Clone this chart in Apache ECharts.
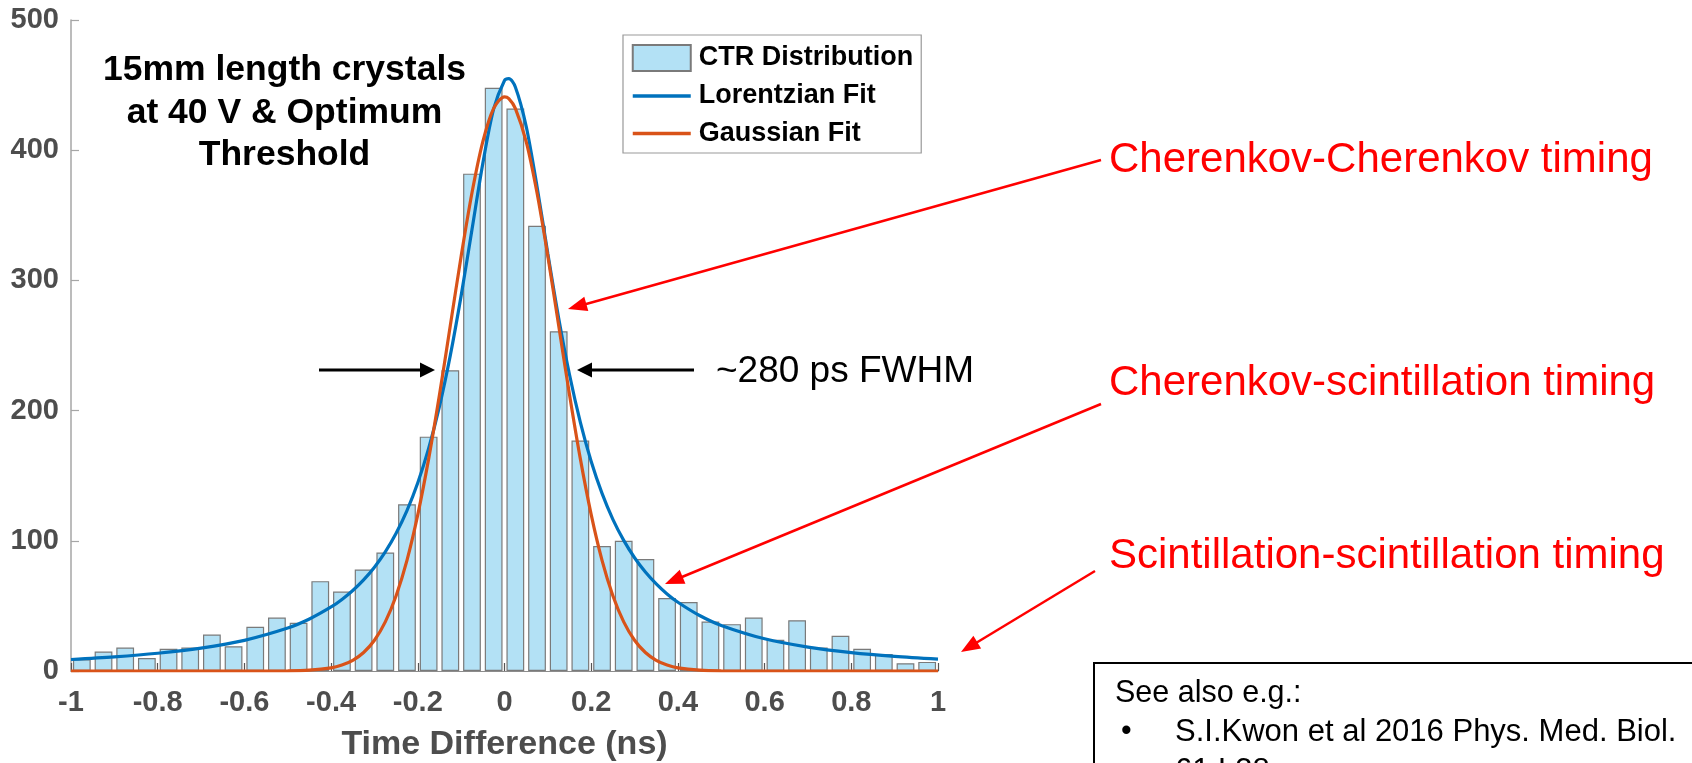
<!DOCTYPE html>
<html>
<head>
<meta charset="utf-8">
<script src="https://cdn.jsdelivr.net/npm/echarts@6/dist/echarts.min.js"></script>
<style>
  html, body { margin: 0; padding: 0; background: #ffffff; }
  #chart { width: 1692px; height: 763px; }
</style>
</head>
<body>
<div id="chart"></div>
<script>
// Histogram bins (ns, bin centres, 0.05 ns wide) and counts per bin
const binCenters = [
  -0.975, -0.925, -0.875, -0.825, -0.775, -0.725, -0.675, -0.625, -0.575, -0.525,
  -0.475, -0.425, -0.375, -0.325, -0.275, -0.225, -0.175, -0.125, -0.075, -0.025,
   0.025,  0.075,  0.125,  0.175,  0.225,  0.275,  0.325,  0.375,  0.425,  0.475,
   0.525,  0.575,  0.625,  0.675,  0.725,  0.775,  0.825,  0.875,  0.925,  0.975
];
const counts = [
   9, 15, 18, 10, 17, 18, 28, 19, 34, 41,
  37, 69, 61, 78, 91, 128, 180, 231, 382, 448,
  432, 342, 261, 177, 96, 100, 86, 56, 53, 38,
  36, 41, 24, 39, 18, 27, 17, 13, 6, 7
];

// Sample positions (ns) of the fitted curves
const fitX = [
  -1, -0.9, -0.8, -0.7, -0.6, -0.5, -0.45, -0.4, -0.375, -0.35, -0.325, -0.3,
  -0.275, -0.25, -0.225, -0.2, -0.175, -0.15, -0.125, -0.1, -0.075, -0.05, -0.025,
  0, 0.01,
  0.025, 0.05, 0.075, 0.1, 0.125, 0.15, 0.175, 0.2, 0.225, 0.25, 0.275, 0.3,
  0.325, 0.35, 0.375, 0.4, 0.45, 0.5, 0.6, 0.7, 0.8, 0.9, 1
];
const lorentzFit = [
  8.85, 10.86, 13.63, 17.59, 23.54, 32.97, 39.91, 49.16, 54.98, 61.85, 70.01, 79.76,
  91.51, 105.8, 123.2, 144.6, 171.0, 203.3, 242.4, 288.3, 339.1, 389.9, 431.7,
  453.6, 455,
  448.6, 418.4, 372.2, 320.5, 271.0, 227.5, 190.9, 160.9, 136.4, 116.5, 100.3, 87.0,
  76.0, 66.9, 59.2, 52.8, 42.6, 35.0, 24.75, 18.38, 14.17, 11.25, 9.14
];
const gaussFit = [
  0, 0, 0, 0, 0, 0.1, 0.6, 2.4, 4.6, 8.2, 14.2, 23.6,
  37.7, 57.8, 85.0, 120.1, 162.9, 212.2, 265.3, 318.6, 367.3, 406.6, 432.1,
  441, 439.6,
  432.1, 406.6, 367.3, 318.6, 265.3, 212.2, 162.9, 120.1, 85.0, 57.8, 37.7, 23.6,
  14.2, 8.2, 4.6, 2.4, 0.6, 0.1, 0, 0, 0, 0, 0
];

const seriesNames = ['CTR Distribution', 'Lorentzian Fit', 'Gaussian Fit'];
const titleLines = ['15mm length crystals', 'at 40 V & Optimum', 'Threshold'];
const fwhmText = '~280 ps FWHM';
const timingLabels = [
  'Cherenkov-Cherenkov timing',
  'Cherenkov-scintillation timing',
  'Scintillation-scintillation timing'
];
const refLines = ['See also e.g.:', 'S.I.Kwon et al 2016 Phys. Med. Biol.', '61 L38'];

const FONT = "'Liberation Sans', Arial, Helvetica, sans-serif";

// Straight arrow: a stroked shaft plus a filled triangular head at (x2, y2)
function arrow(x1, y1, x2, y2, color, width, headLen, headW) {
  const dx = x2 - x1, dy = y2 - y1;
  const len = Math.sqrt(dx * dx + dy * dy);
  const ux = dx / len, uy = dy / len;
  const bx = x2 - ux * headLen, by = y2 - uy * headLen;
  const px = -uy * headW / 2, py = ux * headW / 2;
  return [
    {
      type: 'line', silent: true, z: 50,
      shape: { x1: x1, y1: y1, x2: bx + ux * 2, y2: by + uy * 2 },
      style: { stroke: color, lineWidth: width }
    },
    {
      type: 'polygon', silent: true, z: 50,
      shape: { points: [[x2, y2], [bx + px, by + py], [bx - px, by - py]] },
      style: { fill: color }
    }
  ];
}

function text(str, x, y, opts) {
  return {
    type: 'text', silent: true, z: 60,
    style: Object.assign({
      text: str, x: x, y: y,
      fill: '#000000',
      font: '36px ' + FONT,
      textAlign: 'left',
      textVerticalAlign: 'middle'
    }, opts || {})
  };
}

const graphics = [];
// Title block inside the plot
const titleY = [70, 113, 155];
titleLines.forEach((t, i) => {
  graphics.push(text(t, 284.5, titleY[i], { font: 'bold 35.5px ' + FONT, textAlign: 'center' }));
});
// FWHM markers
graphics.push(...arrow(319, 370, 435, 370, '#000000', 3, 15, 15));
graphics.push(...arrow(694, 370, 577, 370, '#000000', 3, 15, 15));
graphics.push(text(fwhmText, 716, 372, { font: '37px ' + FONT }));
// Timing labels with pointers
const labelY = [160, 383, 556];
timingLabels.forEach((t, i) => {
  graphics.push(text(t, 1109, labelY[i], { font: '42px ' + FONT, fill: '#ff0000' }));
});
graphics.push(...arrow(1101, 160, 568, 309, '#ff0000', 2.5, 19, 15));
graphics.push(...arrow(1101, 404, 665, 584, '#ff0000', 2.5, 19, 15));
graphics.push(...arrow(1095, 571, 961, 652, '#ff0000', 2.5, 19, 15));
// Reference box in the lower right corner
graphics.push({
  type: 'rect', silent: true, z: 40,
  shape: { x: 1094, y: 663, width: 700, height: 200 },
  style: { fill: '#ffffff', stroke: '#000000', lineWidth: 2 }
});
graphics.push(text(refLines[0], 1115, 694, { font: '30.5px ' + FONT }));
graphics.push(text('\u2022', 1121, 732, { font: '30.5px ' + FONT }));
graphics.push(text(refLines[1], 1175, 732, { font: '31px ' + FONT }));
graphics.push(text(refLines[2], 1175, 771, { font: '31px ' + FONT }));

const chart = echarts.init(document.getElementById('chart'), null, { renderer: 'canvas' });

// Line entries in the legend show only their stroke
const hiddenMarker = { color: 'rgba(0,0,0,0)', borderWidth: 0, opacity: 0 };

chart.setOption({
  animation: false,
  backgroundColor: '#ffffff',
  grid: {
    left: 71, right: 754, top: 20, bottom: 92,
    containLabel: false,
    outerBoundsMode: 'none'
  },
  legend: {
    orient: 'vertical',
    left: 623,
    top: 35,
    padding: [9, 8, 6, 8],
    itemGap: 10.5,
    itemWidth: 58,
    itemHeight: 26,
    align: 'left',
    borderColor: '#999999',
    borderWidth: 1.2,
    backgroundColor: '#ffffff',
    selectedMode: false,
    lineStyle: { width: 3.5 },
    textStyle: {
      fontFamily: FONT, fontWeight: 'bold', fontSize: 27, color: '#000000',
      lineHeight: 26, padding: [0, 0, 0, 3]
    },
    data: [
      { name: seriesNames[0], icon: 'rect' },
      { name: seriesNames[1], itemStyle: hiddenMarker },
      { name: seriesNames[2], itemStyle: hiddenMarker }
    ]
  },
  xAxis: {
    type: 'value',
    min: -1,
    max: 1,
    interval: 0.2,
    name: 'Time Difference (ns)',
    nameLocation: 'middle',
    nameGap: 57,
    nameTextStyle: { fontFamily: FONT, fontWeight: 'bold', fontSize: 34, color: '#4d4d4d' },
    axisLine: { show: true, onZero: false, lineStyle: { color: '#8c8c8c', width: 1.2 } },
    axisTick: { show: true, inside: true, length: 8, lineStyle: { color: '#555555', width: 1.2 } },
    axisLabel: { fontFamily: FONT, fontWeight: 'bold', fontSize: 29, color: '#4d4d4d', margin: 17 },
    splitLine: { show: false }
  },
  yAxis: {
    type: 'value',
    min: 0,
    max: 500,
    interval: 100,
    axisLine: { show: true, onZero: false, lineStyle: { color: '#a6a6a6', width: 1.5 } },
    axisTick: { show: true, inside: true, length: 8, lineStyle: { color: '#a6a6a6', width: 1.2 } },
    axisLabel: { fontFamily: FONT, fontWeight: 'bold', fontSize: 29, color: '#4d4d4d', margin: 12 },
    splitLine: { show: false }
  },
  series: [
    {
      name: seriesNames[0],
      type: 'bar',
      barWidth: '82%',
      data: binCenters.map((x, i) => [x, counts[i]]),
      itemStyle: { color: '#b3e1f5', borderColor: '#7a7a7a', borderWidth: 1.2 },
      z: 2
    },
    {
      name: seriesNames[1],
      type: 'line',
      data: fitX.map((x, i) => [x, lorentzFit[i]]),
      symbol: 'none',
      smooth: 0.3,
      lineStyle: { color: '#0072bd', width: 3.2 },
      itemStyle: { color: '#0072bd' },
      z: 3
    },
    {
      name: seriesNames[2],
      type: 'line',
      data: fitX.map((x, i) => [x, gaussFit[i]]),
      symbol: 'none',
      smooth: 0.3,
      lineStyle: { color: '#d95319', width: 3.2 },
      itemStyle: { color: '#d95319' },
      z: 4
    }
  ],
  graphic: { elements: graphics }
});
</script>
</body>
</html>
